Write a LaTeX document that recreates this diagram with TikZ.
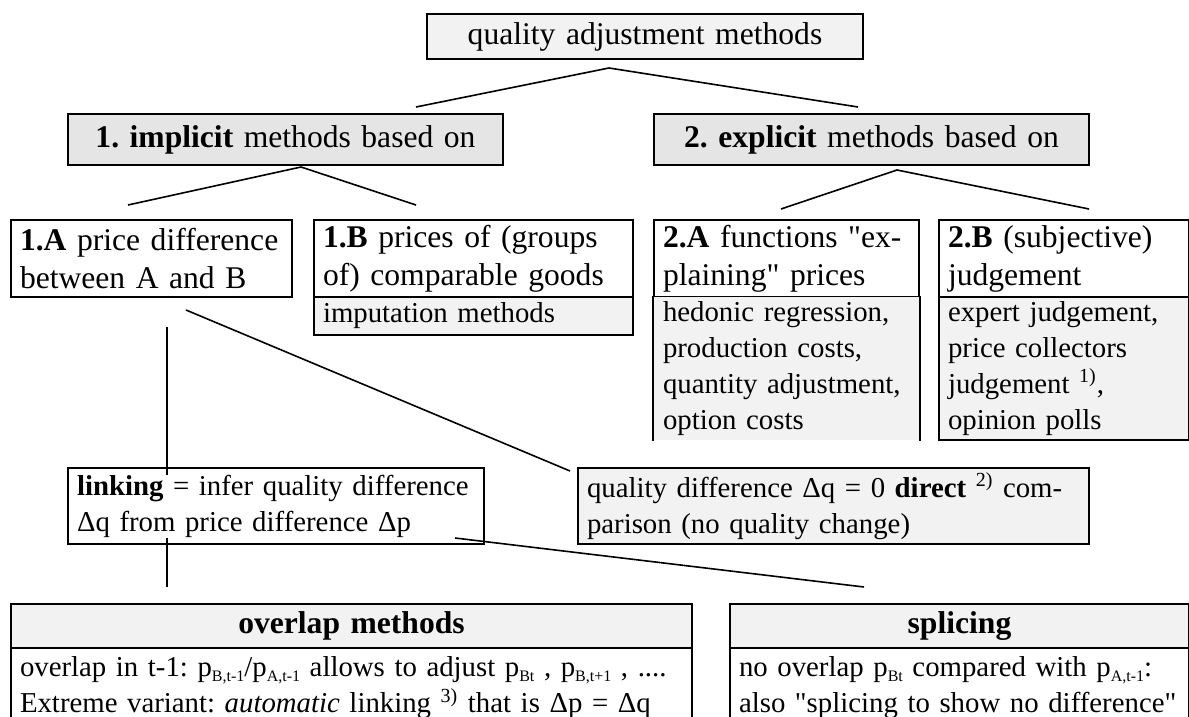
\documentclass[tikz,border=0pt]{standalone}
\usepackage{fontspec}
\setmainfont{Liberation Serif}
\usepackage{tikz}
\newcommand{\keep}[1]{\mbox{#1}}
\newcommand{\idx}[1]{\raisebox{-0.35ex}{\fontsize{8}{8}\selectfont #1}}

\begin{document}
\frenchspacing
\begin{tikzpicture}[x=0.5pt,y=-0.5pt,line width=0.8pt,
    cell/.style={draw,line width=1pt,anchor=north west,inner xsep=4.5pt,inner ysep=0pt,align=left},
    big/.style={font=\fontsize{15.8}{19}\selectfont},
    small/.style={font=\fontsize{14.4}{18}\selectfont}]
        \clip (0,0) rectangle (1189,717);
        % boxes
        \node[cell,big,fill=gray!10,align=center,text width=209pt,minimum height=22.5pt] (Quality_methods) at (426,13) {quality adjustment methods};
        \node[cell,big,fill=gray!20,align=center,text width=208.5pt,minimum height=25.5pt] (Implicit) at (67,113) {\textbf{1. implicit} methods based on};
        \node[cell,big,fill=gray!20,align=center,text width=208.5pt,minimum height=25.5pt] (Explicit) at (653,113) {\textbf{2. explicit} methods based on};
        \node[cell,big,text width=131.5pt,minimum height=38.5pt] (Price_difference) at (10,219) {\keep{\textbf{1.A} price difference}\\\keep{between A and B}};
        \node[cell,big,text width=150.5pt,minimum height=38.5pt] (Comparable) at (313,219) {\keep{\textbf{1.B} prices of (groups}\\\keep{of) comparable goods}};
        \node[cell,small,fill=gray!10,text width=150.5pt,minimum height=19pt] (Imputation) at (313,296) {imputation methods};
        \node[cell,big,text width=123.5pt,minimum height=38.5pt] (Functions) at (653,219) {\keep{\textbf{2.A} functions \textquotedbl ex-}\\\keep{plaining\textquotedbl{} prices}};
        \node[cell,small,draw=none,fill=gray!10,text width=123.5pt,minimum height=71.5pt] (Hedonic) at (653,296) {hedonic regression,\\production costs,\\\keep{quantity adjustment,}\\option costs};
        \draw[line width=1pt] (Hedonic.north west) -- (Hedonic.south west) (Hedonic.north east) -- (Hedonic.south east);
        \node[cell,big,text width=116pt,minimum height=38.5pt] (Judgement) at (938,219) {\keep{\textbf{2.B} (subjective)}\\judgement};
        \node[cell,small,fill=gray!10,text width=116pt,minimum height=71.5pt] (Expert) at (938,296) {expert judgement,\\price collectors\\judgement \textsuperscript{1)},\\opinion polls};
        \node[cell,small,text width=199pt,minimum height=38pt] (Linking) at (67,467) {\keep{\textbf{linking} = infer quality difference}\\\keep{Δq from price difference Δp}};
        \node[cell,small,fill=gray!10,text width=246.5pt,minimum height=38pt] (Direct) at (577,467) {\keep{quality difference Δq = 0 \textbf{direct} \textsuperscript{2)} com-}\\\keep{parison (no quality change)}};
        \node[cell,big,fill=gray!10,align=center,text width=331.5pt,minimum height=22pt] (Overlap) at (10,603) {\textbf{overlap methods}};
        \node[cell,small,text width=331.5pt,minimum height=40pt] (Overlap_text) at (10,647) {\keep{overlap in t-1: p\idx{B,t-1}/p\idx{A,t-1} allows to adjust p\idx{Bt} , p\idx{B,t+1} , ....}\\\keep{Extreme variant: \textit{automatic} linking \textsuperscript{3)} that is Δp = Δq}};
        \node[cell,big,fill=gray!10,align=center,text width=220.5pt,minimum height=22pt] (Splicing) at (729,603) {\textbf{splicing}};
        \node[cell,small,text width=220.5pt,minimum height=40pt] (Splicing_text) at (729,647) {\keep{no overlap p\idx{Bt} compared with p\idx{A,t-1}:}\\\keep{also \textquotedbl splicing to show no difference\textquotedbl}};
        % connector ends
        \coordinate (Methods_fork) at (609,68);
        \coordinate (Implicit_in) at (416,107);
        \coordinate (Explicit_in) at (858,107);
        \coordinate (Implicit_fork) at (301,167);
        \coordinate (Price_difference_in) at (128,205);
        \coordinate (Comparable_in) at (416,205);
        \coordinate (Explicit_fork) at (897,170);
        \coordinate (Functions_in) at (781,209);
        \coordinate (Judgement_in) at (1089,209);
        \coordinate (Price_difference_out) at (167,327);
        \coordinate (Linking_in) at (167,475);
        \coordinate (Price_difference_out2) at (186,310);
        \coordinate (Direct_in) at (570,471);
        \coordinate (Linking_out) at (167,538);
        \coordinate (Overlap_in) at (167,587);
        \coordinate (Linking_out2) at (455,538);
        \coordinate (Splicing_in) at (864,587);
        \draw (Methods_fork) -- (Implicit_in);
        \draw (Methods_fork) -- (Explicit_in);
        \draw (Implicit_fork) -- (Price_difference_in);
        \draw (Implicit_fork) -- (Comparable_in);
        \draw (Explicit_fork) -- (Functions_in);
        \draw (Explicit_fork) -- (Judgement_in);
        \draw (Price_difference_out) -- (Linking_in);
        \draw (Price_difference_out2) -- (Direct_in);
        \draw (Linking_out) -- (Overlap_in);
        \draw (Linking_out2) -- (Splicing_in);
    \end{tikzpicture}
\end{document}
